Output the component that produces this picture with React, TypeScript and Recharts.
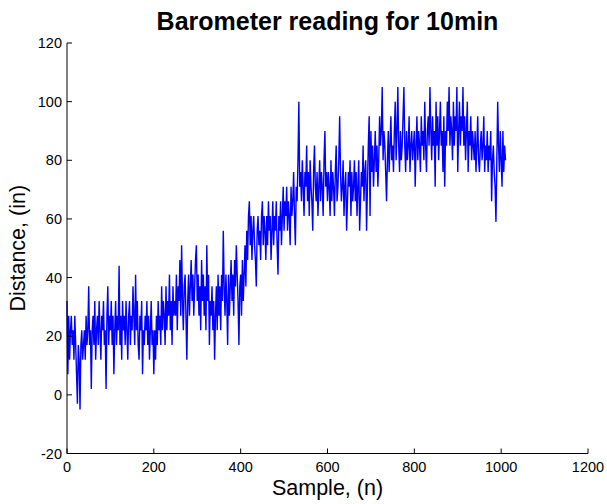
import { Label, Line, LineChart, XAxis, YAxis } from "recharts"

// barometer samples, every 2nd sample
const SAMPLE_STEP = 2
const readings = [
  32, 7, 27, 12, 22, 27, 17, 22, 12, 27, 17, 7, -3, 17, 12, -5, 17, 22, 12, 17, 22, 12, 27, 17, 22,
  37, 17, 22, 2, 22, 27, 17, 32, 12, 22, 27, 17, 32, 22, 12, 27, 22, 32, 17, 22, 2, 27, 37, 17, 27,
  22, 32, 17, 27, 7, 22, 32, 17, 27, 22, 44, 17, 27, 12, 32, 22, 27, 17, 32, 22, 12, 27, 32, 17, 27,
  22, 37, 27, 17, 41, 22, 32, 17, 12, 27, 22, 32, 7, 22, 17, 27, 22, 32, 17, 27, 12, 22, 32, 17, 22,
  7, 22, 12, 27, 17, 32, 22, 27, 17, 37, 22, 32, 27, 17, 37, 22, 32, 27, 41, 22, 32, 17, 37, 27, 32,
  27, 41, 22, 37, 32, 46, 27, 51, 32, 22, 37, 41, 27, 12, 32, 41, 27, 37, 46, 32, 41, 27, 37, 46, 51,
  32, 41, 27, 37, 22, 46, 32, 41, 27, 37, 22, 51, 32, 41, 17, 32, 27, 37, 22, 32, 12, 27, 37, 22, 41,
  27, 37, 22, 41, 32, 56, 37, 27, 41, 32, 17, 41, 27, 37, 46, 32, 41, 27, 46, 37, 51, 41, 32, 17, 37,
  41, 27, 46, 32, 41, 51, 37, 56, 46, 61, 66, 51, 61, 46, 56, 61, 51, 46, 37, 56, 61, 51, 56, 46, 61,
  66, 51, 61, 56, 46, 61, 51, 66, 56, 61, 46, 56, 66, 51, 61, 56, 66, 51, 41, 61, 56, 66, 51, 61, 71,
  56, 66, 61, 71, 56, 66, 61, 51, 71, 61, 66, 76, 61, 51, 71, 66, 80, 100, 71, 76, 66, 80, 71, 61, 76,
  71, 85, 66, 76, 61, 80, 71, 66, 56, 76, 85, 71, 66, 76, 61, 71, 80, 66, 76, 71, 61, 80, 90, 71, 76,
  66, 76, 71, 61, 80, 66, 76, 71, 61, 76, 85, 66, 71, 80, 95, 76, 66, 71, 80, 61, 71, 76, 56, 66, 76,
  71, 80, 61, 76, 66, 71, 80, 66, 76, 61, 71, 80, 56, 66, 76, 71, 85, 66, 76, 80, 56, 71, 85, 95, 61,
  90, 76, 85, 71, 80, 90, 76, 85, 71, 80, 95, 85, 90, 105, 80, 90, 85, 76, 66, 80, 90, 76, 85, 95, 80,
  85, 76, 90, 100, 80, 90, 105, 85, 76, 90, 80, 85, 95, 105, 85, 76, 90, 80, 85, 95, 76, 85, 90, 80, 85,
  90, 71, 85, 95, 80, 90, 85, 76, 95, 85, 90, 80, 100, 85, 76, 90, 95, 85, 105, 90, 80, 95, 85, 90, 71,
  100, 85, 95, 80, 90, 100, 85, 90, 76, 95, 71, 90, 85, 100, 90, 105, 85, 95, 90, 80, 100, 85, 95, 90, 105,
  76, 90, 100, 85, 95, 90, 105, 85, 95, 80, 90, 100, 76, 90, 85, 95, 80, 90, 85, 80, 90, 76, 85, 95, 80,
  76, 85, 90, 80, 85, 95, 76, 85, 80, 90, 76, 85, 80, 90, 66, 80, 85, 76, 71, 59, 80, 100, 85, 76, 90,
  80, 71, 90, 76, 85, 80,
]

const xTicks = [0, 200, 400, 600, 800, 1000, 1200]
const yTicks = [-20, 0, 20, 40, 60, 80, 100, 120]

const data = readings.map((v, i) => ({ n: i * SAMPLE_STEP, v }))

const FONT = "Liberation Sans, Arial, Helvetica, sans-serif"

function XTick({ x, y, payload }: any) {
  return (
    <g>
      <line x1={x} x2={x} y1={y} y2={y - 5} stroke="#000" />
      <text x={x} y={y + 18.5} textAnchor="middle" fontSize={14.5} fontFamily={FONT} fill="#000">
        {payload.value}
      </text>
    </g>
  )
}

function YTick({ x, y, payload }: any) {
  return (
    <g>
      <line x1={x} x2={x + 5} y1={y} y2={y} stroke="#000" />
      <text x={x - 5} y={y + 5} textAnchor="end" fontSize={14.5} fontFamily={FONT} fill="#000">
        {payload.value}
      </text>
    </g>
  )
}

export default function App() {
  return (
    <div style={{ position: "absolute", left: 0, top: 0, width: 607, height: 504, background: "#fff" }}>
      <div
        style={{
          position: "absolute",
          left: 0,
          top: 9,
          width: 655,
          textAlign: "center",
          fontFamily: FONT,
          fontWeight: "bold",
          fontSize: 25,
          lineHeight: "25px",
          color: "#000",
        }}
      >
        Barometer reading for 10min
      </div>
      <LineChart width={607} height={504} data={data} margin={{ top: 43, right: 19, bottom: 20.5, left: 17 }}>
        <XAxis
          dataKey="n"
          type="number"
          domain={[0, 1200]}
          ticks={xTicks}
          interval={0}
          height={30}
          tickSize={0}
          tickMargin={0}
          tickLine={false}
          axisLine={{ stroke: "#000" }}
          tick={<XTick />}
        >
          <Label
            content={({ viewBox }: any) => (
              <text
                x={viewBox.x + viewBox.width / 2}
                y={viewBox.y + 41}
                textAnchor="middle"
                fontSize={21.5}
                fontFamily={FONT}
                fill="#000"
              >
                Sample, (n)
              </text>
            )}
          />
        </XAxis>
        <YAxis
          type="number"
          domain={[-20, 120]}
          ticks={yTicks}
          interval={0}
          width={50}
          tickSize={0}
          tickMargin={0}
          tickLine={false}
          axisLine={{ stroke: "#000" }}
          tick={<YTick />}
        >
          <Label
            content={({ viewBox }: any) => {
              const cx = viewBox.x + viewBox.width - 49
              const cy = viewBox.y + viewBox.height / 2
              return (
                <text
                  x={cx}
                  y={cy}
                  transform={`rotate(-90, ${cx}, ${cy})`}
                  textAnchor="middle"
                  dominantBaseline="central"
                  fontSize={21.5}
                  fontFamily={FONT}
                  fill="#000"
                >
                  Distance, (in)
                </text>
              )
            }}
          />
        </YAxis>
        <Line
          type="linear"
          dataKey="v"
          stroke="#0000ff"
          strokeWidth={1.4}
          dot={false}
          isAnimationActive={false}
        />
      </LineChart>
    </div>
  )
}
